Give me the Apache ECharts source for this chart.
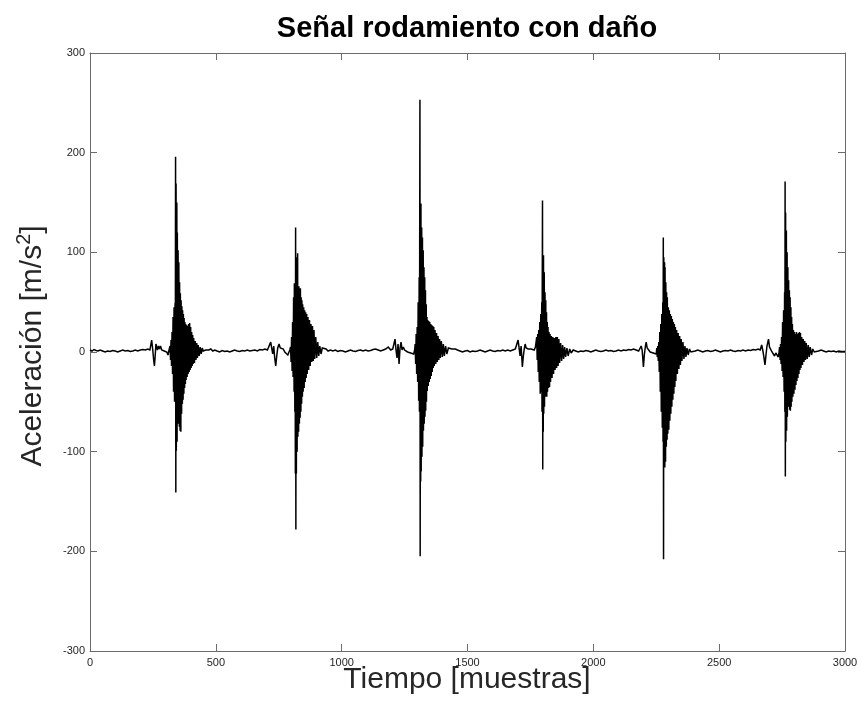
<!DOCTYPE html>
<html>
<head>
<meta charset="utf-8">
<script src="https://cdn.jsdelivr.net/npm/echarts@6/dist/echarts.min.js"></script>
<style>html,body{margin:0;padding:0;background:#fff}#c{width:863px;height:702px}</style>
</head>
<body>
<div id="c"></div>
<script>
// ---- data: [sample, acceleration] ----
var quiet0 = [[0,2],[8,1],[16,2.5],[24,1.5],[32,1],[40,2],[50,1],[60,0],[70,1],[80,0.5],[90,1.5],[100,1],[110,0],[120,1],[130,2],[140,1],[150,1.5],[160,0.5],[170,1],[180,2],[190,1],[200,2],[210,2.5],[220,2],[230,3],[238,2]];
var burst1 = [[245,12],[249,3],[253,-8],[256,-14],[259,-4],[262,8],[265,10],[268,2],[272,6],[276,3],[280,6],[285,2],[290,4],[295,1],[300,3],[305,0],[310,-3],[314,2],
[318,6],[320,-8],[322,12],[324,-14],[326,20],[328,-22],[330,35],[332,-40],[334,45],[336,-50],[338,49],[339,-30],[340,196],[341,-141],[342,169],[343,-99],[345,150],[346,-90],[347,120],[349,-72],[350,102],[352,-65],[353,90],[355,-75],[356,70],[358,-79],[359,59],[361,-80],[362,52],[364,-62],[365,46],[367,-52],[368,42],[370,-48],[371,38],[373,-42],[374,34],[376,-36],[377,30],[379,-32],[380,28],[382,-28],[384,27],[386,-25],[388,26],[390,-22],[392,28],[394,-20],[396,29],[398,-18],[400,25],[402,-16],[404,20],[406,-14],[408,17],[410,-12],[412,14],[415,-11],[418,11],[421,-8],[424,9],[427,-6],[430,7],[434,-4],[438,5],[442,-2],[446,4],[450,1],[455,3],[460,2],[466,4],[472,2],[480,3],[488,1],[496,2]];
var quiet1 = [[505,1],[515,0],[525,1.5],[535,0.5],[545,1],[555,0],[565,1],[575,2],[585,1],[595,0.5],[605,1.5],[615,1],[625,2],[635,1],[645,1.5],[655,2],[665,1],[675,2.5],[685,2],[695,3],[705,2],[712,1]];
var burst2 = [[718,10],[722,4],[726,-2],[730,6],[734,-6],[738,-14],[742,-4],[746,4],[751,8],[756,4],[762,2],[768,3],[774,0],[780,-2],[786,-3],[790,-1],[794,2],
[797,5],[799,-10],[801,15],[803,-19],[805,30],[807,-25],[809,55],[811,-40],[812,69],[814,-60],[815,60],[816,-122],[817,125],[818,-178],[819,80],[820,-122],[821,95],[823,-100],[825,99],[826,-85],[828,65],[829,-80],[830,66],[832,-72],[833,62],[835,-66],[836,64],[838,-60],[839,55],[841,-52],[842,52],[844,-45],[845,48],[847,-40],[849,45],[851,-36],[853,42],[855,-30],[857,40],[859,-26],[861,38],[863,-22],[866,35],[869,-18],[872,32],[875,-14],[878,28],[881,-10],[884,26],[887,-9],[890,22],[893,-7],[897,15],[901,-6],[905,10],[909,-4],[913,6],[918,-2],[923,4],[930,2],[938,3],[946,1]];
var quiet2 = [[955,2],[965,1],[975,2],[985,0.5],[995,1.5],[1005,1],[1015,0],[1025,1],[1035,2],[1045,1],[1055,0.5],[1065,1.5],[1075,2],[1085,1],[1095,2],[1105,1],[1115,1.5],[1125,2.5],[1135,3],[1145,2],[1155,1],[1165,2],[1175,3],[1185,5],[1195,2],[1203,3],[1208,1]];
var burst3 = [[1212,13],[1216,2],[1220,-6],[1224,8],[1228,-12],[1232,4],[1236,10],[1240,2],[1245,5],[1250,2],[1256,4],[1262,0],[1268,2],[1274,-1],[1280,1],[1286,-2],[1290,2],
[1292,8],[1294,-12],[1296,18],[1298,-22],[1300,25],[1302,-30],[1304,50],[1306,-49],[1308,75],[1309,-60],[1310,100],[1311,253],[1312,-205],[1313,130],[1314,-130],[1315,149],[1316,-120],[1318,125],[1319,-105],[1321,115],[1322,-95],[1324,102],[1325,-79],[1327,85],[1328,-72],[1330,75],[1331,-65],[1333,62],[1334,-59],[1336,48],[1337,-50],[1339,35],[1340,-39],[1342,32],[1344,-34],[1346,31],[1348,-30],[1350,30],[1352,-27],[1354,28],[1356,-24],[1358,27],[1360,-20],[1362,26],[1364,-16],[1366,25],[1368,-14],[1371,22],[1374,-12],[1377,19],[1380,-10],[1383,16],[1386,-8],[1389,13],[1392,-6],[1396,11],[1400,-5],[1404,8],[1408,-4],[1413,6],[1418,-2],[1424,4],[1430,2],[1438,3]];
var quiet3 = [[1445,1],[1452,3],[1460,2],[1470,1],[1480,0],[1490,1],[1500,1.5],[1510,0],[1520,1],[1530,0.5],[1540,1],[1550,2],[1560,1],[1570,0],[1580,1],[1590,2],[1600,1],[1610,0.5],[1620,1.5],[1630,1],[1640,2],[1650,1],[1660,2],[1670,1],[1680,2],[1690,3],[1697,2]];
var burst4 = [[1701,12],[1705,4],[1709,-4],[1713,6],[1718,-15],[1722,-4],[1726,4],[1729,8],[1733,4],[1737,5],[1741,3],[1747,5],[1753,3],[1759,4],[1765,2],[1770,5],[1775,15],
[1777,-8],[1779,18],[1781,-20],[1783,22],[1785,-30],[1787,30],[1789,-42],[1791,38],[1793,-40],[1795,50],[1796,-60],[1797,60],[1798,152],[1799,-118],[1800,80],[1801,-80],[1802,97],[1803,-62],[1805,80],[1806,-55],[1808,60],[1809,-45],[1811,52],[1812,-38],[1814,40],[1815,-45],[1817,30],[1818,-40],[1820,25],[1822,-36],[1824,20],[1826,-35],[1828,18],[1830,-30],[1833,16],[1836,-26],[1839,15],[1842,-22],[1845,14],[1848,-18],[1851,15],[1854,-16],[1857,15],[1860,-14],[1863,13],[1866,-11],[1870,9],[1874,-9],[1878,7],[1882,-7],[1886,5],[1890,-5],[1895,4],[1900,-4],[1906,3],[1912,-1],[1920,2]];
var quiet4 = [[1930,1],[1940,0],[1950,1],[1960,0.5],[1970,1.5],[1980,1],[1990,0],[2000,1],[2010,2],[2020,1],[2030,0.5],[2040,1],[2050,2],[2060,1],[2070,1.5],[2080,0.5],[2090,1],[2100,2],[2110,1],[2120,2],[2130,1.5],[2140,2.5],[2150,2],[2160,3],[2170,2],[2180,1],[2186,2]];
var burst5 = [[2190,6],[2194,2],[2197,-8],[2199,-15],[2203,-2],[2207,6],[2210,10],[2214,4],[2220,2],[2226,0],[2232,2],[2238,-1],[2244,1],[2250,-2],
[2252,4],[2254,-5],[2256,6],[2258,-9],[2260,10],[2262,-20],[2264,20],[2266,-40],[2268,28],[2270,-60],[2272,38],[2274,-76],[2276,50],[2277,-90],[2278,115],[2279,-208],[2280,95],[2281,-110],[2283,90],[2284,-116],[2285,85],[2287,-110],[2288,70],[2290,-95],[2291,60],[2293,-88],[2294,55],[2296,-82],[2298,45],[2300,-78],[2302,42],[2304,-69],[2306,38],[2308,-62],[2310,36],[2312,-55],[2314,33],[2316,-48],[2318,30],[2320,-42],[2322,28],[2324,-35],[2326,25],[2328,-29],[2331,22],[2334,-22],[2337,19],[2340,-17],[2343,16],[2346,-13],[2349,13],[2352,-9],[2356,10],[2360,-7],[2364,6],[2368,-5],[2372,4],[2377,-3],[2382,3],[2388,0],[2395,2]];
var quiet5 = [[2405,1],[2415,2],[2425,1],[2435,0],[2445,1],[2455,1.5],[2465,0.5],[2475,1],[2485,2],[2495,1],[2505,0],[2515,1],[2525,1.5],[2535,1],[2545,2],[2555,1],[2565,0.5],[2575,1.5],[2585,1],[2595,2],[2605,1],[2615,2],[2625,1.5],[2635,2.5],[2645,2],[2655,3],[2663,2]];
var burst6 = [[2669,7],[2673,2],[2677,-4],[2682,-13],[2686,-3],[2690,6],[2696,13],[2700,5],[2705,3],[2710,0],[2715,-2],[2720,-4],[2725,-1],[2730,-3],[2735,-5],[2738,0],
[2740,5],[2742,-8],[2744,8],[2746,-12],[2748,15],[2750,-19],[2752,30],[2754,-25],[2756,42],[2758,-40],[2760,60],[2761,-60],[2762,171],[2763,-125],[2764,140],[2765,-90],[2767,122],[2768,-79],[2770,100],[2771,-65],[2773,85],[2774,-52],[2776,72],[2777,-55],[2779,62],[2780,-58],[2782,55],[2783,-59],[2785,45],[2786,-55],[2788,35],[2789,-50],[2791,28],[2793,-45],[2795,22],[2797,-42],[2799,20],[2801,-38],[2803,18],[2805,-33],[2807,20],[2809,-29],[2811,18],[2813,-26],[2815,19],[2817,-22],[2819,20],[2821,-18],[2823,19],[2825,-16],[2828,15],[2831,-13],[2834,13],[2837,-10],[2840,11],[2843,-8],[2846,9],[2850,-7],[2854,7],[2858,-5],[2862,5],[2867,-3],[2872,3],[2878,0],[2885,2]];
var quiet6 = [[2895,1],[2905,2],[2915,1],[2925,0],[2935,1],[2945,0.5],[2955,1],[2965,0],[2975,1],[2985,0.5],[3000,0.5]];

var xTicks = [0, 500, 1000, 1500, 2000, 2500, 3000];
var yTicks = [-300, -200, -100, 0, 100, 200, 300];
var titleText = 'Señal rodamiento con daño';
var xName = 'Tiempo [muestras]';

var signal = [].concat(quiet0, burst1, quiet1, burst2, quiet2, burst3, quiet3, burst4, quiet4, burst5, quiet5, burst6, quiet6);

var FONT = "'Liberation Sans', Arial, Helvetica, sans-serif";
var axisColor = '#6b6b6b';
var labelColor = '#262626';

function xAx(pos, showLabel) {
  return {
    type: 'value', position: pos, min: xTicks[0], max: xTicks[xTicks.length - 1],
    interval: xTicks[1] - xTicks[0],
    axisLine: { show: true, onZero: false, lineStyle: { color: axisColor, width: 1 } },
    axisTick: { show: true, inside: true, length: 7, lineStyle: { color: axisColor } },
    axisLabel: { show: showLabel, color: labelColor, fontSize: 11, fontFamily: FONT, margin: 6,
                 formatter: function (v) { return String(v); } },
    splitLine: { show: false }
  };
}
function yAx(pos, showLabel) {
  return {
    type: 'value', position: pos, min: yTicks[0], max: yTicks[yTicks.length - 1],
    interval: yTicks[1] - yTicks[0],
    axisLine: { show: true, onZero: false, lineStyle: { color: axisColor, width: 1 } },
    axisTick: { show: true, inside: true, length: 7, lineStyle: { color: axisColor } },
    axisLabel: { show: showLabel, color: labelColor, fontSize: 11, fontFamily: FONT, margin: 5,
                 formatter: function (v) { return String(v); } },
    splitLine: { show: false }
  };
}

var chart = echarts.init(document.getElementById('c'), null, { renderer: 'canvas' });
chart.setOption({
  animation: false,
  backgroundColor: '#ffffff',
  grid: { left: 90, right: 18, top: 53, bottom: 51, containLabel: false },
  xAxis: [xAx('bottom', true), xAx('top', false)],
  yAxis: [yAx('left', true), yAx('right', false)],
  series: [{
    type: 'line', xAxisIndex: 0, yAxisIndex: 0, data: signal,
    showSymbol: false, symbol: 'none', sampling: null, smooth: false,
    lineStyle: { color: '#000000', width: 1.5, join: 'miter', miterLimit: 2 }, silent: true
  }],
  graphic: [
    { type: 'text', x: 467, y: 29, style: { text: titleText, fill: '#000', font: 'bold 29px ' + FONT, align: 'center', verticalAlign: 'middle' } },
    { type: 'text', x: 467, y: 680, style: { text: xName, fill: labelColor, font: '30px ' + FONT, align: 'center', verticalAlign: 'middle' } },
    { type: 'text', x: 31, y: 346, rotation: Math.PI / 2,
      style: {
        text: '{a|Aceleración [m/s}{s|2}{a|]}', align: 'center', verticalAlign: 'middle',
        rich: {
          a: { fontSize: 30, fontFamily: FONT, fill: labelColor, lineHeight: 34, verticalAlign: 'bottom' },
          s: { fontSize: 20, fontFamily: FONT, fill: labelColor, lineHeight: 20, padding: [0, 0, 14, 0], verticalAlign: 'bottom' }
        }
      } }
  ]
});
</script>
</body>
</html>
